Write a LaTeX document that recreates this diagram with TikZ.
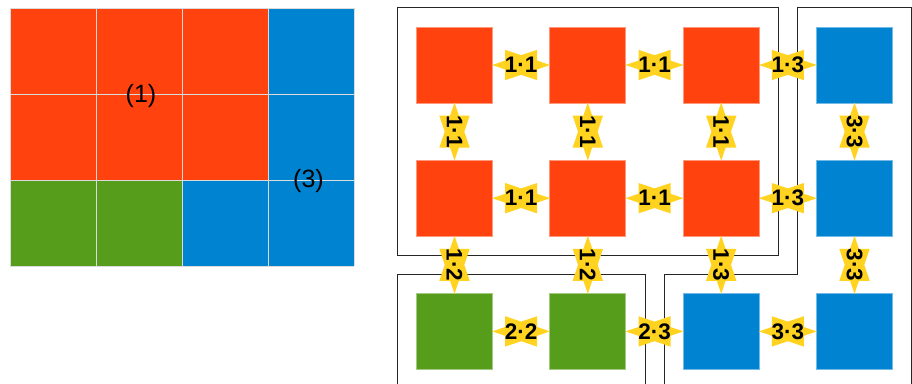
\documentclass[tikz,border=0pt]{standalone}
\usepackage{fontspec}
\setmainfont{Liberation Sans}
\usetikzlibrary{calc}
\definecolor{lored}{HTML}{FF420E}
\definecolor{loblue}{HTML}{0084D1}
\definecolor{logreen}{HTML}{579D1C}
\definecolor{loyellow}{HTML}{FFD320}
\tikzset{
  sq/.style={minimum size=76pt, inner sep=0pt, line width=0.8pt},
  rsq/.style={sq, fill=lored, draw=lored!55!white},
  bsq/.style={sq, fill=loblue, draw=loblue!55!white},
  gsq/.style={sq, fill=logreen, draw=logreen!55!white},
  groupframe/.style={draw=black!85, line width=1pt},
  gridline/.style={draw=black!14, line width=1pt},
  biglbl/.style={font=\fontsize{25}{28}\selectfont, inner sep=0pt},
  lbl/.style={font=\bfseries\fontsize{22.5}{26}\selectfont, inner sep=0pt},
  hexh/.pic={
    \fill[loyellow] (29,0) -- (16,4.4) -- (16,15.2) -- (0,9.8) -- (-16,15.2) -- (-16,4.4)
      -- (-29,0) -- (-16,-4.4) -- (-16,-15.2) -- (0,-9.8) -- (16,-15.2) -- (16,-4.4) -- cycle;
    \node[lbl] {\tikzpictext};
  },
  hexv/.pic={
    \fill[loyellow] (0,29) -- (4.4,16) -- (15.2,16) -- (9.8,0) -- (15.2,-16) -- (4.4,-16)
      -- (0,-29) -- (-4.4,-16) -- (-15.2,-16) -- (-9.8,0) -- (-15.2,16) -- (-4.4,16) -- cycle;
    \node[lbl, rotate=-90] {\tikzpictext};
  },
}
\begin{document}
\begin{tikzpicture}[x=1pt, y=-1pt]
\useasboundingbox (0,0) rectangle (912,383);
\clip (0,0) rectangle (912,383);
% left grid
\foreach \c/\r/\col in {0/0/lored,1/0/lored,2/0/lored,3/0/loblue,
                        0/1/lored,1/1/lored,2/1/lored,3/1/loblue,
                        0/2/logreen,1/2/logreen,2/2/loblue,3/2/loblue}
  \fill[\col] ({10+86*\c},{8+86*\r}) rectangle ++(86,86);
\foreach \i in {0,...,4} \draw[gridline] ({10+86*\i},8) -- ({10+86*\i},266);
\foreach \j in {0,...,3} \draw[gridline] (10,{8+86*\j}) -- (354,{8+86*\j});
\node[biglbl] (lone) at (141,96.3) {(1)};
\node[biglbl] (lthree) at (308.5,181.5) {(3)};
% group frames
\draw[groupframe] (397.3,7.5) rectangle (778,255.3);
\draw[groupframe] (664,395) -- (664,274) -- (797,274) -- (797,7.5) -- (911,7.5) -- (911,395);
\draw[groupframe] (397.3,395) -- (397.3,274) -- (645,274) -- (645,395);
% squares
\node[rsq] (r11) at (454.5,65) {};
\node[rsq] (r12) at (587.8,65) {};
\node[rsq] (r13) at (721.2,65) {};
\node[bsq] (b14) at (854.5,65) {};
\node[rsq] (r21) at (454.5,198.2) {};
\node[rsq] (r22) at (587.8,198.2) {};
\node[rsq] (r23) at (721.2,198.2) {};
\node[bsq] (b24) at (854.5,198.2) {};
\node[gsq] (g31) at (454.5,331.4) {};
\node[gsq] (g32) at (587.8,331.4) {};
\node[bsq] (b33) at (721.2,331.4) {};
\node[bsq] (b34) at (854.5,331.4) {};
% horizontal labels
\pic[pic text=1·1] at ($(r11)!.5!(r12)$) {hexh};
\pic[pic text=1·1] at ($(r12)!.5!(r13)$) {hexh};
\pic[pic text=1·3] at ($(r13)!.5!(b14)$) {hexh};
\pic[pic text=1·1] at ($(r21)!.5!(r22)$) {hexh};
\pic[pic text=1·1] at ($(r22)!.5!(r23)$) {hexh};
\pic[pic text=1·3] at ($(r23)!.5!(b24)$) {hexh};
\pic[pic text=2·2] at ($(g31)!.5!(g32)$) {hexh};
\pic[pic text=2·3] at ($(g32)!.5!(b33)$) {hexh};
\pic[pic text=3·3] at ($(b33)!.5!(b34)$) {hexh};
% vertical labels
\pic[pic text=1·1] at ($(r11)!.5!(r21)$) {hexv};
\pic[pic text=1·1] at ($(r12)!.5!(r22)$) {hexv};
\pic[pic text=1·1] at ($(r13)!.5!(r23)$) {hexv};
\pic[pic text=3·3] at ($(b14)!.5!(b24)$) {hexv};
\pic[pic text=1·2] at ($(r21)!.5!(g31)$) {hexv};
\pic[pic text=1·2] at ($(r22)!.5!(g32)$) {hexv};
\pic[pic text=1·3] at ($(r23)!.5!(b33)$) {hexv};
\pic[pic text=3·3] at ($(b24)!.5!(b34)$) {hexv};
\end{tikzpicture}
\end{document}
